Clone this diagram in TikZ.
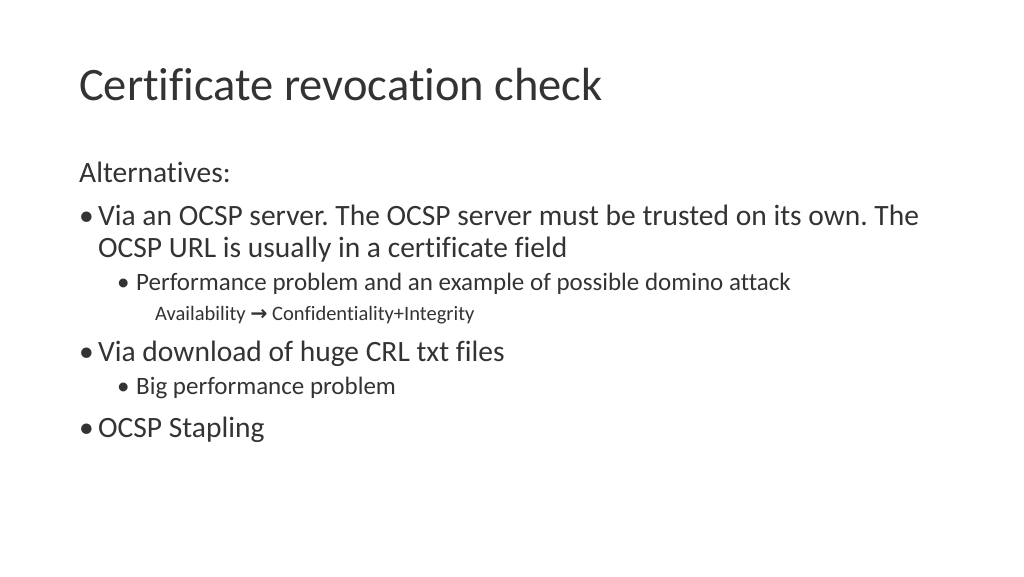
\documentclass[tikz,border=0pt]{standalone}
\usepackage{fontspec}
\setmainfont{Carlito}[RawFeature={-liga}]
\newfontfamily\arrowfont{DejaVu Sans}
\frenchspacing
\begin{document}
\begin{tikzpicture}[x=1pt,y=-1pt,
  t/.style={anchor=base west,inner sep=0pt,text=black!80},
  l1/.style={t,font=\fontsize{29.5}{34}\selectfont},
  l2/.style={t,font=\fontsize{25}{29}\selectfont},
  l3/.style={t,font=\fontsize{20.5}{24}\selectfont}]
\useasboundingbox (0,0) rectangle (1024,576);
\node[t,font=\fontsize{46.5}{52}\selectfont] (title) at (79,100) {Certificate revocation check};
\node[l1] (alt) at (79,182) {Alternatives:};
\node[l1] (b1) at (79,225) {•};
\node[l1] (v1) at (98,225) {Via an OCSP server. The OCSP server must be trusted on its own. The};
\node[l1] (v1b) at (98,257) {OCSP URL is usually in a certificate field};
\node[l2] (b2) at (117,290) {•};
\node[l2] (p1) at (136,290) {Performance problem and an example of possible domino attack};
\node[l3] (av) at (155,320) {Availability {\arrowfont\bfseries →} Confidentiality+Integrity};
\node[l1] (b3) at (79,361) {•};
\node[l1] (v2) at (98,361) {Via download of huge CRL txt files};
\node[l2] (b4) at (117,394) {•};
\node[l2] (p2) at (136,394) {Big performance problem};
\node[l1] (b5) at (79,437) {•};
\node[l1] (v3) at (98,437) {OCSP Stapling};
\end{tikzpicture}
\end{document}
